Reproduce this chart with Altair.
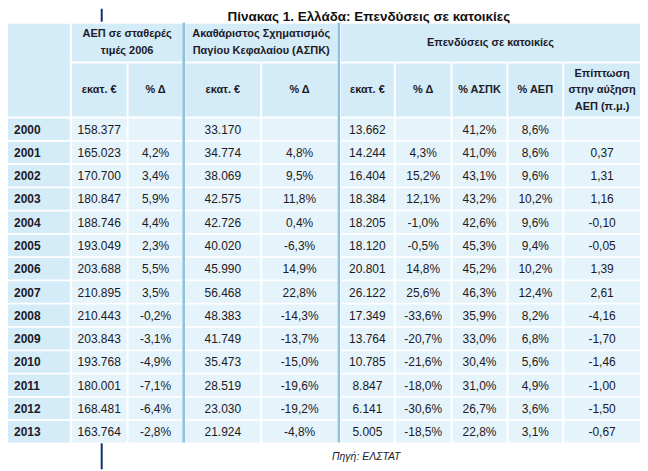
import altair as alt
import pandas as pd

# ---------------- data ----------------
years = [2000, 2001, 2002, 2003, 2004, 2005, 2006, 2007, 2008, 2009, 2010, 2011, 2012, 2013]
gdp = [158377, 165023, 170700, 180847, 188746, 193049, 203688, 210895, 210443, 203843, 193768, 180001, 168481, 163764]
gdp_pct = [None, 4.2, 3.4, 5.9, 4.4, 2.3, 5.5, 3.5, -0.2, -3.1, -4.9, -7.1, -6.4, -2.8]
gfcf = [33170, 34774, 38069, 42575, 42726, 40020, 45990, 56468, 48383, 41749, 35473, 28519, 23030, 21924]
gfcf_pct = [None, 4.8, 9.5, 11.8, 0.4, -6.3, 14.9, 22.8, -14.3, -13.7, -15.0, -19.6, -19.2, -4.8]
hous = [13662, 14244, 16404, 18384, 18205, 18120, 20801, 26122, 17349, 13764, 10785, 8847, 6141, 5005]
hous_pct = [None, 4.3, 15.2, 12.1, -1.0, -0.5, 14.8, 25.6, -33.6, -20.7, -21.6, -18.0, -30.6, -18.5]
hous_gfcf = [41.2, 41.0, 43.1, 43.2, 42.6, 45.3, 45.2, 46.3, 35.9, 33.0, 30.4, 31.0, 26.7, 22.8]
hous_gdp = [8.6, 8.6, 9.6, 10.2, 9.6, 9.4, 10.2, 12.4, 8.2, 6.8, 5.6, 4.9, 3.6, 3.1]
contrib = [None, 0.37, 1.31, 1.16, -0.10, -0.05, 1.39, 2.61, -4.16, -1.70, -1.46, -1.00, -1.50, -0.67]

title_text = "Πίνακας 1. Ελλάδα: Επενδύσεις σε κατοικίες"
source_text = "Πηγή: ΕΛΣΤΑΤ"
group_headers = [
    ["ΑΕΠ σε σταθερές", "τιμές 2006"],
    ["Ακαθάριστος Σχηματισμός", "Παγίου Κεφαλαίου (ΑΣΠΚ)"],
    ["Επενδύσεις σε κατοικίες"],
]
sub_headers = [["εκατ. €"], ["% Δ"], ["εκατ. €"], ["% Δ"], ["εκατ. €"], ["% Δ"],
               ["% ΑΣΠΚ"], ["% ΑΕΠ"], ["Επίπτωση", "στην αύξηση", "ΑΕΠ (π.μ.)"]]

# ---------------- formatting (Greek locale) ----------------
def fmt_int(v):
    return f"{v:,}".replace(",", ".")

def fmt_pct(v):
    return "" if v is None else f"{v:.1f}%".replace(".", ",")

def fmt_dec(v):
    return "" if v is None else f"{v:.2f}".replace(".", ",")

columns = [
    [fmt_int(v) for v in gdp], [fmt_pct(v) for v in gdp_pct],
    [fmt_int(v) for v in gfcf], [fmt_pct(v) for v in gfcf_pct],
    [fmt_int(v) for v in hous], [fmt_pct(v) for v in hous_pct],
    [fmt_pct(v) for v in hous_gfcf], [fmt_pct(v) for v in hous_gdp],
    [fmt_dec(v) for v in contrib],
]

# ---------------- layout (page pixels) ----------------
COL = [(8, 70), (72, 127), (129, 183), (186, 261), (263, 338),
       (342, 395), (397, 452), (454, 508), (510, 564), (566, 642)]
GROUP_SPAN = [(1, 2), (3, 4), (5, 9)]
DIVIDERS = [(183, 185.6), (338.6, 341.2)]
H1 = (23, 61)
H2 = (63, 116)
ROW_TOP, ROW_PITCH, ROW_H = 118, 23.35, 21.6
HEAD_FILL, CELL_FILL, DIV_FILL = "#d4ebf8", "#e5f3fb", "#8fc0dc"
TXT = "#1c1a26"

cells, data_txt, year_txt, head_txt = [], [], [], []
# header cells
cells.append(dict(x=COL[0][0], x2=COL[0][1], y=H1[0], y2=H2[1], fill=HEAD_FILL))
for (a, b), lines in zip(GROUP_SPAN, group_headers):
    x0, x1 = COL[a][0], COL[b][1]
    cells.append(dict(x=x0, x2=x1, y=H1[0], y2=H1[1], fill=HEAD_FILL))
    mid = (H1[0] + H1[1]) / 2
    n = len(lines)
    for k, t in enumerate(lines):
        head_txt.append(dict(x=(x0 + x1) / 2, y=mid + (k - (n - 1) / 2) * 17, text=t))
for j, lines in enumerate(sub_headers, start=1):
    x0, x1 = COL[j]
    cells.append(dict(x=x0, x2=x1, y=H2[0], y2=H2[1], fill=HEAD_FILL))
    mid = (H2[0] + H2[1]) / 2 + 0.5
    n = len(lines)
    for k, t in enumerate(lines):
        head_txt.append(dict(x=(x0 + x1) / 2, y=mid + (k - (n - 1) / 2) * 16.5, text=t))
# data rows
for i, yr in enumerate(years):
    y0 = ROW_TOP + i * ROW_PITCH
    y1 = y0 + ROW_H
    ym = (y0 + y1) / 2 + 0.5
    for j, (x0, x1) in enumerate(COL):
        cells.append(dict(x=x0, x2=x1, y=y0, y2=y1, fill=HEAD_FILL if j == 0 else CELL_FILL))
    year_txt.append(dict(x=COL[0][0] + 6, y=ym, text=str(yr)))
    for j, col in enumerate(columns, start=1):
        x0, x1 = COL[j]
        data_txt.append(dict(x=(x0 + x1) / 2, y=ym, text=col[i]))
for (a, b) in DIVIDERS:
    cells.append(dict(x=a, x2=b, y=22, y2=ROW_TOP + 13 * ROW_PITCH + ROW_H, fill=DIV_FILL))
# dark accent lines
cells.append(dict(x=101, x2=103, y=8, y2=21, fill="#0b3468"))
cells.append(dict(x=101, x2=103, y=444, y2=470, fill="#0b3468"))

W, H = 634, 462
xs = alt.Scale(domain=[8, 8 + W], nice=False, zero=False)
ys = alt.Scale(domain=[8, 8 + H], nice=False, zero=False, reverse=True)
X = alt.X("x:Q", scale=xs, axis=None)
Y = alt.Y("y:Q", scale=ys, axis=None)

FONT = "Liberation Sans"

rects = alt.Chart(pd.DataFrame(cells)).mark_rect().encode(
    x=X, x2="x2:Q", y=Y, y2="y2:Q", color=alt.Color("fill:N", scale=None)
)
dtext = alt.Chart(pd.DataFrame(data_txt)).mark_text(
    font=FONT, fontSize=12, color=TXT, align="center", baseline="middle"
).encode(x=X, y=Y, text="text:N")
ytext = alt.Chart(pd.DataFrame(year_txt)).mark_text(
    font=FONT, fontSize=12, fontWeight="bold", color=TXT, align="left", baseline="middle"
).encode(x=X, y=Y, text="text:N")
htext = alt.Chart(pd.DataFrame(head_txt)).mark_text(
    font=FONT, fontSize=11, fontWeight="bold", color=TXT, align="center", baseline="middle"
).encode(x=X, y=Y, text="text:N")
ttext = alt.Chart(pd.DataFrame([dict(x=370, y=16, text=title_text)])).mark_text(
    font=FONT, fontSize=13.5, fontWeight="bold", color="#111111",
    align="center", baseline="middle"
).encode(x=X, y=Y, text="text:N")
stext = alt.Chart(pd.DataFrame([dict(x=333, y=458, text=source_text)])).mark_text(
    font=FONT, fontSize=10.5, fontStyle="italic", color=TXT,
    align="left", baseline="middle"
).encode(x=X, y=Y, text="text:N")

chart = alt.layer(rects, dtext, ytext, htext, ttext, stext).properties(
    width=W, height=H, padding=0, autosize=alt.AutoSizeParams(type="none"),
    background="white"
).configure_view(stroke=None)

chart.save("out.html", embed_options={"renderer": "svg", "actions": False})
